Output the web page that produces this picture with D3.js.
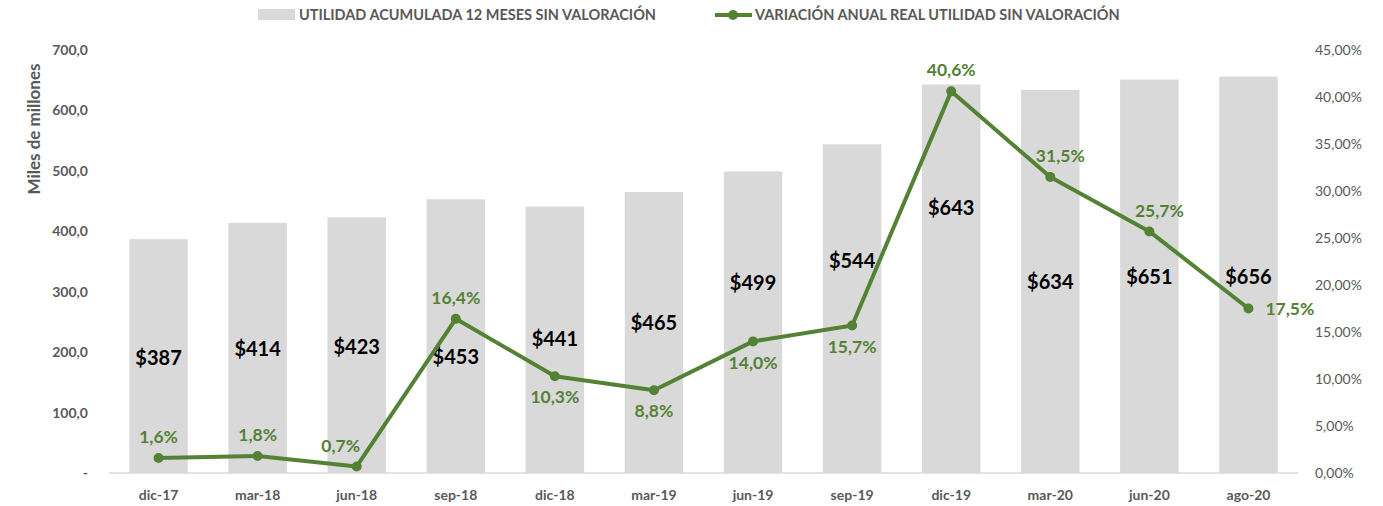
<!DOCTYPE html>
<html lang="es">
<head>
    <meta charset="utf-8">
    <script src="https://d3js.org/d3.v7.min.js"></script>
    <style>
        body { margin: 0; background: #fff; }
        text { font-family: Lato, "Open Sans", sans-serif; }
    </style>
</head>
<body>
<script>
    // data
    const periods = ["dic-17", "mar-18", "jun-18", "sep-18", "dic-18", "mar-19",
                     "jun-19", "sep-19", "dic-19", "mar-20", "jun-20", "ago-20"];
    const utilidad = [387, 414, 423, 453, 441, 465, 499, 544, 643, 634, 651, 656];
    const variacion = [1.6, 1.8, 0.7, 16.4, 10.3, 8.8, 14.0, 15.7, 40.6, 31.5, 25.7, 17.5];
    // where the bar value labels sit, in axis units
    const labelLevel = [190, 205, 208, 192, 222, 248, 314, 351, 438, 316, 324, 324];
    // where the percent labels sit relative to the point
    const pctSide = ["top", "top", "topleft", "top", "bottom", "bottom",
                     "bottom", "bottom", "top", "topright", "topright", "right"];
    const leftTicks = [0, 100, 200, 300, 400, 500, 600, 700];
    const rightTicks = [0, 5, 10, 15, 20, 25, 30, 35, 40, 45];

    const W = 1383, H = 506;
    const margin = {top: 50, right: 85, bottom: 33, left: 109};
    const width = W - margin.left - margin.right;
    const height = H - margin.top - margin.bottom;

    const svg = d3.select("body").append("svg")
        .attr("width", W)
        .attr("height", H);

    const g = svg.append("g")
        .attr("transform", "translate(" + margin.left + "," + margin.top + ")");

    const x = d3.scaleBand()
        .domain(periods)
        .range([0, width])
        .paddingInner(0.41)
        .paddingOuter(0.205);

    const y = d3.scaleLinear().domain([0, 700]).range([height, 0]);
    const y2 = d3.scaleLinear().domain([0, 45]).range([height, 0]);

    const fmt1 = d3.formatLocale({decimal: ",", thousands: ".", grouping: [3], currency: ["$", ""]});

    // bars
    g.selectAll(".bar")
        .data(periods)
        .enter()
        .append("rect")
        .attr("class", "bar")
        .attr("x", d => x(d))
        .attr("y", (d, i) => y(utilidad[i]))
        .attr("width", x.bandwidth())
        .attr("height", (d, i) => height - y(utilidad[i]))
        .attr("fill", "#d9d9d9");

    // baseline
    g.append("line")
        .attr("x1", 0).attr("x2", width)
        .attr("y1", height).attr("y2", height)
        .attr("stroke", "#d9d9d9")
        .attr("stroke-width", 1.5);

    // left axis
    const yAxis = g.append("g")
        .call(d3.axisLeft(y).tickValues(leftTicks).tickSize(0).tickPadding(21)
            .tickFormat(d => d === 0 ? "-" : fmt1.format(",.1f")(d)));
    yAxis.select(".domain").remove();
    yAxis.selectAll("text")
        .attr("font-size", 14).attr("font-weight", "bold").attr("fill", "#595959");

    // right axis
    const yAxisR = g.append("g")
        .attr("transform", "translate(" + width + ",0)")
        .call(d3.axisRight(y2).tickValues(rightTicks).tickSize(0).tickPadding(17)
            .tickFormat(d => fmt1.format(".2f")(d) + "%"));
    yAxisR.select(".domain").remove();
    yAxisR.selectAll("text")
        .attr("font-size", 14).attr("fill", "#595959");

    // x axis
    const xAxis = g.append("g")
        .attr("transform", "translate(0," + height + ")")
        .call(d3.axisBottom(x).tickSize(0).tickPadding(17));
    xAxis.select(".domain").remove();
    xAxis.selectAll("text")
        .attr("font-size", 14).attr("font-weight", "bold").attr("fill", "#595959");

    // axis title
    svg.append("text")
        .attr("transform", "translate(34,129) rotate(-90)")
        .attr("dy", "0.35em")
        .attr("text-anchor", "middle")
        .attr("font-size", 17).attr("font-weight", "bold").attr("fill", "#595959")
        .text("Miles de millones");

    // bar value labels
    g.selectAll(".blabel")
        .data(periods)
        .enter()
        .append("text")
        .attr("class", "blabel")
        .attr("x", d => x(d) + x.bandwidth() / 2)
        .attr("y", (d, i) => y(labelLevel[i]))
        .attr("dy", "0.35em")
        .attr("text-anchor", "middle")
        .attr("font-size", 20).attr("font-weight", "bold").attr("fill", "#000")
        .text((d, i) => "$" + utilidad[i]);

    // line
    const cx = d => x(d) + x.bandwidth() / 2;
    const line = d3.line()
        .x(d => cx(d))
        .y((d, i) => y2(variacion[i]));

    g.append("path")
        .datum(periods)
        .attr("d", line)
        .attr("fill", "none")
        .attr("stroke", "#548235")
        .attr("stroke-width", 4)
        .attr("stroke-linejoin", "round");

    g.selectAll(".pt")
        .data(periods)
        .enter()
        .append("circle")
        .attr("class", "pt")
        .attr("cx", d => cx(d))
        .attr("cy", (d, i) => y2(variacion[i]))
        .attr("r", 5)
        .attr("fill", "#548235");

    // percent labels
    g.selectAll(".plabel")
        .data(periods)
        .enter()
        .append("text")
        .attr("class", "plabel")
        .attr("x", (d, i) => {
            if (pctSide[i] === "right") return cx(d) + 17;
            if (pctSide[i] === "topleft") return cx(d) - 16;
            if (pctSide[i] === "topright") return cx(d) + 10;
            return cx(d);
        })
        .attr("y", (d, i) => {
            const p = y2(variacion[i]);
            if (pctSide[i] === "bottom") return p + 21;
            if (pctSide[i] === "right") return p;
            return p - 21;
        })
        .attr("dy", "0.35em")
        .attr("text-anchor", (d, i) => pctSide[i] === "right" ? "start" : "middle")
        .attr("font-size", 17.5).attr("font-weight", "bold").attr("fill", "#548235")
        .text((d, i) => fmt1.format(".1f")(variacion[i]) + "%");

    // legend
    const leg = svg.append("g");
    leg.append("rect")
        .attr("x", 258).attr("y", 9).attr("width", 37).attr("height", 11)
        .attr("fill", "#d9d9d9");
    leg.append("text")
        .attr("x", 299).attr("y", 15).attr("dy", "0.35em")
        .attr("font-size", 14.5).attr("font-weight", "bold").attr("fill", "#595959")
        .text("UTILIDAD ACUMULADA 12 MESES SIN VALORACIÓN");
    leg.append("line")
        .attr("x1", 715).attr("x2", 752).attr("y1", 15).attr("y2", 15)
        .attr("stroke", "#548235").attr("stroke-width", 4);
    leg.append("circle")
        .attr("cx", 733).attr("cy", 15).attr("r", 5).attr("fill", "#548235");
    leg.append("text")
        .attr("x", 755).attr("y", 15).attr("dy", "0.35em")
        .attr("font-size", 14.5).attr("font-weight", "bold").attr("fill", "#595959")
        .text("VARIACIÓN ANUAL REAL UTILIDAD SIN VALORACIÓN");
</script>
</body>
</html>
